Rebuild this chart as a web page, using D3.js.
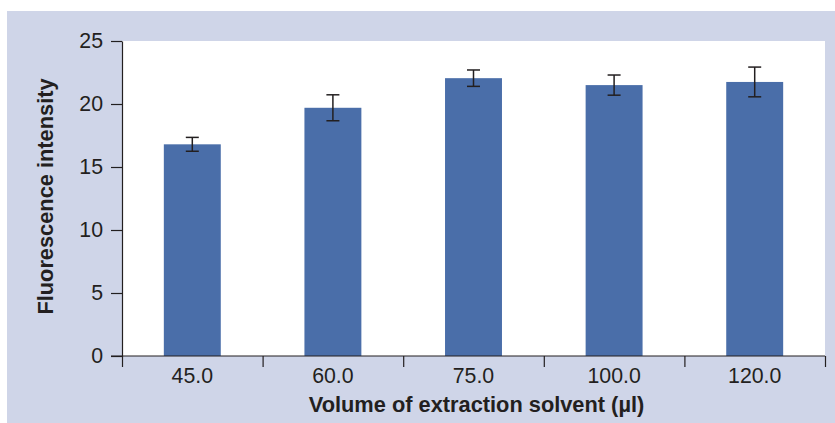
<!DOCTYPE html>
<html>
<head>
<meta charset="utf-8">
<script src="https://cdn.jsdelivr.net/npm/d3@7"></script>
<style>
  body { margin: 0; background: #fff; }
  text { font-family: "Liberation Sans", Arial, sans-serif; fill: #231f20; }
</style>
</head>
<body>
<div id="chart"></div>
<script>
// Data
const volumes = ["45.0", "60.0", "75.0", "100.0", "120.0"];
const intensity = [16.8, 19.7, 22.05, 21.5, 21.75];
const errors = [0.55, 1.03, 0.65, 0.8, 1.18];
const yTicks = [0, 5, 10, 15, 20, 25];

const W = 835, H = 423;
const margin = {top: 41, right: 10, bottom: 67, left: 122};
const width = W - margin.left - margin.right;
const height = H - margin.top - margin.bottom;
const fs = 21.3;
const titleFs = 21.8;

const svg = d3.select("#chart").append("svg")
    .attr("width", W)
    .attr("height", H);

// Panel background
svg.append("rect")
    .attr("x", 7).attr("y", 11)
    .attr("width", W - 7).attr("height", H - 11)
    .attr("fill", "#cfd5e8");

const g = svg.append("g")
    .attr("transform", "translate(" + margin.left + "," + margin.top + ")");

// Plot area
g.append("rect")
    .attr("width", width).attr("height", height)
    .attr("fill", "#fff");

const x = d3.scaleBand()
    .domain(volumes)
    .range([0, width])
    .paddingInner(0.595)
    .paddingOuter(0.2975);

const xEdge = d3.scaleLinear()
    .domain([0, volumes.length])
    .range([0, width]);

const y = d3.scaleLinear()
    .domain([0, 25])
    .range([height, 0]);

// Bars
g.selectAll(".bar")
    .data(volumes)
    .enter().append("rect")
    .attr("class", "bar")
    .attr("x", d => x(d))
    .attr("width", x.bandwidth())
    .attr("y", (d, i) => y(intensity[i]))
    .attr("height", (d, i) => height - y(intensity[i]))
    .attr("fill", "#4a6ea9");

// Error bars
const cap = 6.5;
const eb = g.selectAll(".err")
    .data(volumes)
    .enter().append("g")
    .attr("class", "err")
    .attr("stroke", "#231f20")
    .attr("stroke-width", 1.5);

eb.append("line")
    .attr("x1", d => x(d) + x.bandwidth() / 2)
    .attr("x2", d => x(d) + x.bandwidth() / 2)
    .attr("y1", (d, i) => y(intensity[i] - errors[i]))
    .attr("y2", (d, i) => y(intensity[i] + errors[i]));

eb.append("line")
    .attr("x1", d => x(d) + x.bandwidth() / 2 - cap)
    .attr("x2", d => x(d) + x.bandwidth() / 2 + cap)
    .attr("y1", (d, i) => y(intensity[i] + errors[i]))
    .attr("y2", (d, i) => y(intensity[i] + errors[i]));

eb.append("line")
    .attr("x1", d => x(d) + x.bandwidth() / 2 - cap)
    .attr("x2", d => x(d) + x.bandwidth() / 2 + cap)
    .attr("y1", (d, i) => y(intensity[i] - errors[i]))
    .attr("y2", (d, i) => y(intensity[i] - errors[i]));

// Y axis
const yAxis = g.append("g")
    .call(d3.axisLeft(y).tickValues(yTicks).tickSize(11).tickPadding(8).tickSizeOuter(0));
yAxis.select(".domain").attr("stroke", "#231f20").attr("stroke-width", 1.2);
yAxis.selectAll(".tick line").attr("stroke", "#231f20").attr("stroke-width", 1.2);
yAxis.selectAll("text").attr("font-size", fs).attr("fill", "#231f20")
    .attr("font-family", "Liberation Sans, Arial, sans-serif");

// X axis: ticks at category boundaries, labels at band centres
const xAxis = g.append("g")
    .attr("transform", "translate(0," + height + ")")
    .call(d3.axisBottom(xEdge).ticks(volumes.length).tickSize(11).tickFormat("").tickSizeOuter(0));
xAxis.select(".domain").attr("stroke", "#231f20").attr("stroke-width", 1.2)
    .attr("d", "M-11,0H" + width);
xAxis.selectAll(".tick line").attr("stroke", "#231f20").attr("stroke-width", 1.2);

g.append("g")
    .selectAll("text")
    .data(volumes)
    .enter().append("text")
    .attr("x", d => x(d) + x.bandwidth() / 2)
    .attr("y", height + 27)
    .attr("text-anchor", "middle")
    .attr("font-size", fs)
    .text(d => d);

// Axis titles
g.append("text")
    .attr("x", width / 2 + 3)
    .attr("y", height + 56)
    .attr("text-anchor", "middle")
    .attr("font-size", titleFs)
    .attr("font-weight", "bold")
    .text("Volume of extraction solvent (µl)");

g.append("text")
    .attr("transform", "translate(" + (-69) + "," + (155.5) + ") rotate(-90)")
    .attr("text-anchor", "middle")
    .attr("font-size", titleFs)
    .attr("font-weight", "bold")
    .text("Fluorescence intensity");
</script>
</body>
</html>
